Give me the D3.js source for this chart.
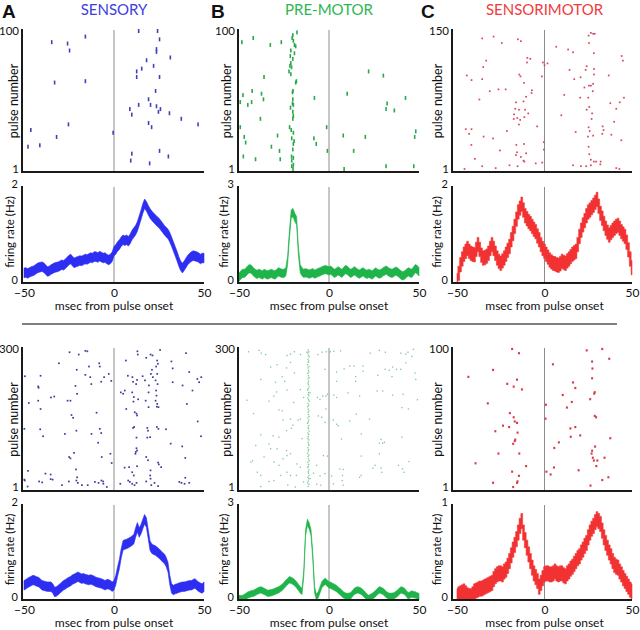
<!DOCTYPE html>
<html><head><meta charset="utf-8">
<script src="https://cdn.jsdelivr.net/npm/d3@7"></script>
<style>body{margin:0;background:#fff}svg{display:block}text{font-family:Lato,"Open Sans",sans-serif}</style>
</head><body><svg id="c" width="640" height="630"></svg>
<script>
// ---------- DATA ----------
const panelLetters = ["A", "B", "C"];
const panelTitles = ["SENSORY", "PRE-MOTOR", "SENSORIMOTOR"];
const xTickValues = [-50, 0, 50];
const xLabel = "msec from pulse onset";
const rasterLabel = "pulse number";
const rateLabel = "firing rate (Hz)";
const pulseMaxTop = [100, 100, 150];
const pulseMaxBottom = [300, 300, 100];
const rateMaxTop = [2, 3, 2];
const rateMaxBottom = [2, 3, 1];
const rateSemTop = [0.1, 0.13, 0.15];
const rateSemBottom = [0.1, 0.1, 0.08];
const rateTimes = d3.range(-50, 51, 1);

// spikes: [msec from pulse onset, pulse number]
const spikesA1 = [[-15.9,96],[-34.6,92],[-25.8,91],[-24.7,86],[-33.0,63],[-15.9,64],[-25.3,33],[-46.2,29],[-31.9,24],[-41.2,18],[-47.8,17],[-0.5,27],[13.7,100],[24.2,100],[25.3,94],[23.6,87],[23.6,85],[31.3,81],[18.1,79],[22.0,75],[15.4,73],[12.6,71],[12.6,67],[25.3,67],[23.1,57],[19.2,51],[13.7,47],[20.3,47],[23.6,46],[25.8,44],[24.7,42],[8.8,44],[9.9,40],[30.8,41],[37.4,37],[19.2,34],[20.9,31],[46.7,33],[25.3,14],[9.9,12],[9.3,7],[30.2,10],[19.8,5]];
const spikesB1 = [[-17.8,99],[-20.1,97],[-20.5,95],[-19.8,93],[-19.2,90],[-18.5,89],[-21.2,86],[-19.2,84],[-21.5,82],[-20.1,80],[-21.2,77],[-21.7,75],[-20.8,74],[-22.2,71],[-21.2,69],[-18.1,64],[-18.5,63],[-20.0,57],[-20.3,56],[-20.1,51],[-20.3,48],[-19.8,47],[-21.4,45],[-20.1,42],[-19.8,39],[-20.1,37],[-21.9,31],[-21.0,29],[-19.8,27],[-20.7,23],[-19.4,21],[-19.8,19],[-20.1,15],[-20.8,10],[-19.8,9],[-20.7,7],[-19.8,4],[-20.7,3],[-20.0,1],
 [-48.4,92],[-42.1,95],[-32.6,90],[-26.5,92],[-36.1,67],[-47.8,54],[-42.7,57],[-37.5,55],[-36.4,51],[-49.3,49],[-43.0,49],[-45.1,47],[-38.1,37],[-49.3,31],[-47.1,24],[-46.3,20],[-28.6,25],[-32.0,17],[-27.5,14],[-47.6,10],[-40.8,8],[-27.1,8],[-8.1,52],[-8.4,23],[-7.1,19],[-1.3,31],[-0.9,14],
 [22.0,71],[30.2,68],[10.1,55],[32.3,48],[31.7,44],[36.3,43],[42.5,52],[7.9,25],[20.2,24],[13.7,14],[48.2,28],[47.6,24],[8.4,1],[31.7,3],[47.1,3]];
const spikesC1 = [[-35.6,142],[-29.1,144],[-24.4,137],[-15.2,141],[-13.5,139],[-33.3,118],[-35.0,111],[-44.4,102],[-41.7,97],[-35.6,98],[-31.3,85],[-26.3,87],[-37.2,76],[-22.2,87],[-14.4,103],[-13.7,101],[-11.7,94],[-9.8,121],[-8.1,120],[-10.0,116],[-7.2,86],[-7.4,83],[-10.5,79],[-12.0,74],[-16.3,73],[-16.7,66],[-14.6,65],[-11.1,65],[-17.4,60],[-15.5,56],[-13.9,54],[-17.6,55],[-14.6,49],[-9.3,61],[-11.5,57],[-4.2,47],[-45.0,44],[-41.7,44],[-43.1,39],[-21.5,42],[-34.8,36],[-29.4,34],[-41.8,27],[-25.5,21],[-16.1,27],[-11.7,28],[-15.7,19],[-16.3,16],[-10.5,18],[-13.5,14],[-12.0,10],[-11.5,9],[-39.8,12],[-35.6,4],[-27.9,2],[-45.7,1],[-20.0,5],[-15.4,4],[-5.0,7],[-1.3,8],[-1.5,101],[-0.9,116],[0.0,113],[-0.4,30],[-0.4,22],
 [6.7,133],[13.5,130],[16.3,127],[26.5,148],[27.8,147],[28.7,147],[25.2,145],[25.4,137],[28.2,126],[1.7,115],[14.3,108],[17.0,98],[20.6,100],[24.1,112],[23.5,108],[28.3,109],[28.3,103],[36.7,102],[44.1,123],[44.8,118],[22.8,89],[25.4,91],[26.5,91],[27.8,93],[27.6,85],[11.3,81],[20.4,78],[25.0,78],[25.6,68],[27.2,61],[26.9,55],[9.6,59],[24.1,65],[37.6,72],[43.0,73],[45.4,78],[41.0,66],[39.8,52],[33.2,47],[33.7,43],[33.0,39],[38.2,38],[43.9,32],[17.8,41],[25.2,46],[25.8,42],[24.8,36],[27.8,37],[25.2,25],[25.6,17],[26.5,11],[28.2,9],[29.5,9],[32.1,9],[31.9,6],[23.8,4],[26.5,5],[16.3,5],[20.8,4],[41.0,2],[42.8,1]];
const spikesA2 = [[-24.7,293],[-19.6,288],[-15.9,296],[-14.8,295],[-30.6,269],[-8.2,269],[-7.9,262],[-13.9,262],[-20.7,255],[-40.8,242],[-49.5,241],[-15.9,244],[-13.2,239],[-41.9,216],[-42.1,219],[-35.0,195],[-33.2,197],[-21.4,220],[-20.5,203],[-24.2,188],[-12.6,224],[-7.1,229],[-2.9,246],[-5.5,239],[-1.5,231],[-47.3,183],[-42.1,188],[-40.8,170],[-25.8,188],[-9.7,162],[-23.6,157],[-22.7,151],[-41.0,126],[-49.8,127],[-39.4,111],[-27.3,116],[-20.9,123],[-12.5,116],[-7.9,127],[-7.1,118],[-8.8,97],[-22.2,75],[-24.9,66],[-24.2,63],[-6.8,66],[-2.0,73],[-1.3,53],[-21.1,39],[-47.8,36],[-38.1,30],[-35.2,28],[-35.2,18],[-34.1,17],[-49.8,17],[-49.6,15],[-41.6,13],[-39.9,11],[-28.9,5],[-25.1,13],[-20.9,15],[-20.1,10],[-17.8,5],[-14.6,5],[-10.6,12],[-7.0,15],[-6.0,13],[-5.9,8],[-8.6,10],[-4.0,1],[-48.0,2],[-20.5,22],
 [6.6,275],[13.0,295],[13.2,288],[20.3,288],[25.6,298],[21.4,286],[17.9,281],[24.0,275],[24.4,268],[23.4,262],[21.1,255],[24.0,246],[31.9,273],[32.6,258],[40.0,291],[7.7,242],[10.2,239],[10.6,229],[12.8,233],[12.3,224],[15.9,241],[17.2,232],[20.5,246],[21.6,239],[23.1,232],[19.4,221],[24.2,224],[32.6,228],[41.8,250],[38.1,221],[43.6,210],[46.3,235],[48.5,239],[47.3,228],[3.8,206],[5.1,203],[6.0,210],[10.1,206],[11.0,196],[13.4,191],[10.8,186],[19.2,206],[23.4,210],[23.6,199],[23.1,188],[24.0,181],[23.8,175],[24.7,174],[19.2,174],[17.6,188],[6.8,170],[11.5,163],[12.5,160],[12.8,156],[40.5,181],[46.5,143],[48.3,111],[10.6,129],[11.2,131],[18.5,129],[18.9,123],[23.8,131],[24.7,127],[28.9,126],[12.5,108],[18.5,108],[20.1,109],[31.5,95],[37.9,89],[12.5,85],[12.1,77],[11.9,73],[12.8,80],[17.9,66],[18.9,59],[24.5,54],[24.9,50],[39.6,64],[5.9,43],[8.4,44],[10.1,33],[11.0,26],[12.8,46],[20.3,37],[20.1,26],[26.2,44],[7.9,15],[8.8,12],[10.1,8],[11.4,5],[12.5,10],[17.9,13],[20.7,5],[22.5,10],[20.3,19],[24.5,3],[36.3,12],[37.5,10],[39.6,21],[39.2,8],[41.8,10],[3.5,8]];
const spikesB2 = [[-11.6,298],[-11.2,294],[-11.8,291],[-11.4,286],[-11.0,283],[-11.7,278],[-11.3,274],[-11.5,271],[-11.9,266],[-11.1,262],[-11.6,259],[-11.4,254],[-11.2,250],[-11.8,247],[-11.5,242],[-11.0,238],[-11.6,235],[-11.3,230],[-11.7,226],[-11.4,223],[-11.1,218],[-11.6,214],[-11.9,211],[-11.3,206],[-11.5,202],[-11.2,199],[-11.7,194],[-11.4,190],[-11.0,187],[-11.6,182],[-11.3,178],[-11.8,175],[-11.5,170],[-11.2,166],[-11.6,163],[-11.4,158],[-11.1,154],[-11.7,151],[-11.3,146],[-11.5,142],[-11.9,139],[-11.2,134],[-11.6,130],[-11.4,127],[-11.0,122],[-11.7,118],[-11.3,115],[-11.5,110],[-11.8,106],[-11.2,103],[-11.6,98],[-11.4,94],[-11.1,91],[-11.7,86],[-11.3,82],[-11.5,79],[-11.9,74],[-11.2,70],[-11.6,67],[-11.4,62],[-11.0,58],[-11.7,55],[-11.3,50],[-11.5,46],[-11.8,43],[-11.2,38],[-11.6,34],[-11.4,31],[-11.1,26],[-11.7,22],[-11.3,19],[-11.5,14],[-11.9,10],[-11.2,7],[-11.6,2],
 [-44.7,294],[-38.8,297],[-37.6,291],[-35.2,288],[-23.3,286],[-21.4,289],[-19.2,294],[-15.8,288],[-12.3,293],[-6.2,288],[-3.9,293],[-1.5,294],[0.7,294],[2.7,295],[6.4,296],[22.9,291],[28.0,297],[31.3,293],[39.9,291],[42.7,289],[43.9,293],[46.9,299],
 [-32.4,261],[-28.8,266],[-23.6,259],[-21.4,271],[-26.0,240],[-29.7,228],[-37.9,234],[-24.6,230],[-19.2,248],[-2.2,256],[4.2,250],[8.4,257],[11.5,263],[13.9,263],[14.8,240],[14.8,230],[18.9,263],[18.9,252],[27.1,243],[31.1,256],[33.5,254],[35.3,261],[37.5,256],[39.9,256],[42.7,270],[46.0,284],[47.8,248],[48.2,234],[35.0,240],[4.2,230],
 [-45.6,189],[-41.9,160],[-33.3,187],[-30.6,198],[-29.1,207],[-23.3,211],[-19.6,184],[-15.9,212],[-14.1,195],[-10.5,205],[-6.4,195],[-5.0,191],[-3.5,198],[-1.7,198],[-0.9,202],[2.7,200],[4.2,195],[10.6,205],[17.0,198],[26.7,209],[29.8,209],[35.3,200],[41.2,202],[40.5,173],[44.1,170],[49.1,190],[15.2,159],[-1.7,170],
 [-27.8,168],[-25.5,146],[-26.0,166],[-21.4,148],[-20.0,135],[-20.9,128],[-17.2,146],[-15.9,148],[-15.0,106],[-5.9,155],[-4.0,152],[-2.2,141],[2.4,146],[4.2,137],[5.1,134],[6.9,105],[11.5,144],[17.9,116],[22.5,148],[28.9,104],[29.8,96],[30.8,98],[28.0,96],[40.5,109],[-31.0,112],[-27.8,109],[-37.9,114],[-33.3,94],[-40.7,91],[-23.6,123],
 [-32.4,84],[-28.8,84],[-23.6,80],[-23.3,69],[-25.5,62],[-21.4,73],[-27.8,48],[-30.6,55],[-36.1,66],[-42.5,58],[-43.4,55],[-17.8,51],[-3.1,69],[-0.9,68],[-15.9,44],[-6.8,48],[6.0,40],[7.9,39],[17.9,68],[24.4,42],[25.6,48],[28.9,42],[29.3,33],[38.6,48],[40.8,40],[44.5,56],[41.7,33],[28.0,73],
 [-39.8,33],[-37.9,26],[-33.3,13],[-30.6,15],[-26.9,26],[-23.3,33],[-21.4,26],[-18.1,26],[-10.5,19],[-8.6,31],[-5.0,25],[-2.2,30],[1.5,25],[2.4,8],[7.3,15],[7.5,26],[17.0,22],[17.9,26],[-37.9,2],[-22.9,5],[-18.7,1],[-4.6,5],[7.9,5],[-6.8,7],[-14.1,12]];
const spikesC2 = [[-18.5,100],[-14.6,97],[-43.5,80],[-29.4,85],[-21.3,75],[-17.6,73],[-15.7,78],[-12.9,71],[-32.4,61],[-19.8,54],[-17.6,51],[-17.0,48],[-15.7,47],[-23.7,45],[-20.2,44],[-28.1,41],[-15.4,40],[-16.7,35],[-17.0,34],[-17.9,32],[-26.3,25],[-14.4,25],[-39.4,18],[-10.5,16],[-18.5,12],[-14.6,9],[-15.4,5],[-15.7,4],[-29.4,4],[-17.9,1],
 [24.1,99],[33.0,100],[37.0,93],[27.2,91],[27.4,86],[4.8,89],[27.2,79],[16.3,76],[17.6,72],[28.7,69],[28.4,68],[26.1,64],[10.4,67],[15.6,62],[12.8,58],[0.8,60],[0.6,50],[28.7,52],[29.5,51],[17.6,44],[14.8,43],[15.0,37],[20.4,38],[37.6,36],[8.2,33],[5.6,29],[28.9,30],[27.2,27],[26.9,25],[27.6,22],[28.2,20],[30.2,20],[29.6,16],[34.3,22],[5.4,15],[1.1,12],[3.5,10],[19.5,13],[33.0,6],[36.5,8],[26.3,2]];

// firing rate (Hz), one value per msec from -50 to 50
const rateA1 = [0.21,0.22,0.2,0.22,0.24,0.25,0.27,0.3,0.32,0.33,0.34,0.32,0.28,0.24,0.25,0.28,0.3,0.32,0.33,0.34,0.36,0.38,0.37,0.4,0.44,0.48,0.5,0.45,0.42,0.44,0.45,0.47,0.46,0.48,0.5,0.49,0.51,0.53,0.52,0.55,0.55,0.53,0.56,0.54,0.52,0.53,0.5,0.48,0.5,0.55,0.66,0.7,0.76,0.8,0.86,0.9,0.88,0.9,0.87,0.92,1.0,1.05,1.1,1.18,1.3,1.42,1.55,1.65,1.6,1.52,1.45,1.4,1.36,1.32,1.28,1.25,1.2,1.15,1.1,1.06,1.02,0.95,0.86,0.76,0.66,0.56,0.45,0.36,0.31,0.36,0.42,0.48,0.52,0.55,0.57,0.56,0.55,0.53,0.5,0.52,0.52];
const rateB1 = [0.18,0.25,0.3,0.3,0.35,0.42,0.45,0.42,0.35,0.3,0.27,0.3,0.28,0.25,0.3,0.27,0.25,0.28,0.3,0.27,0.25,0.3,0.35,0.32,0.3,0.3,0.35,0.7,1.5,2.15,2.2,2.05,1.95,1.0,0.45,0.35,0.3,0.32,0.3,0.28,0.3,0.32,0.28,0.3,0.33,0.35,0.38,0.4,0.42,0.4,0.38,0.4,0.35,0.3,0.33,0.38,0.35,0.3,0.35,0.42,0.4,0.35,0.3,0.33,0.38,0.35,0.3,0.28,0.32,0.35,0.3,0.27,0.3,0.28,0.25,0.3,0.35,0.3,0.28,0.3,0.35,0.38,0.4,0.35,0.32,0.3,0.33,0.37,0.35,0.3,0.25,0.22,0.25,0.3,0.35,0.32,0.3,0.38,0.45,0.42,0.35];
const rateC1 = [0.05,0.2,0.38,0.5,0.6,0.66,0.72,0.66,0.62,0.6,0.59,0.7,0.8,0.7,0.58,0.52,0.53,0.56,0.62,0.72,0.8,0.72,0.62,0.52,0.45,0.41,0.46,0.52,0.6,0.68,0.76,0.9,1.03,1.18,1.33,1.48,1.56,1.64,1.52,1.4,1.34,1.28,1.24,1.18,1.12,1.07,0.98,0.9,0.8,0.72,0.66,0.6,0.54,0.48,0.44,0.41,0.4,0.38,0.37,0.4,0.45,0.43,0.41,0.46,0.5,0.55,0.6,0.63,0.66,0.8,0.97,1.1,1.21,1.3,1.4,1.48,1.52,1.57,1.62,1.68,1.74,1.6,1.45,1.35,1.24,1.14,1.06,1.0,1.05,1.1,1.14,1.18,1.2,1.14,1.07,1.02,0.97,0.85,0.69,0.5,0.32];
const rateA2 = [0.31,0.33,0.36,0.38,0.4,0.42,0.41,0.39,0.38,0.35,0.31,0.3,0.29,0.28,0.28,0.28,0.24,0.17,0.18,0.21,0.24,0.28,0.31,0.33,0.36,0.38,0.4,0.43,0.45,0.47,0.49,0.47,0.45,0.46,0.44,0.43,0.42,0.43,0.42,0.4,0.38,0.37,0.36,0.35,0.33,0.31,0.33,0.33,0.31,0.28,0.31,0.42,0.6,0.76,0.98,1.15,1.17,1.18,1.2,1.22,1.25,1.28,1.42,1.53,1.42,1.49,1.6,1.7,1.63,1.39,1.15,1.08,1.06,1.04,1.01,0.98,0.94,0.9,0.87,0.8,0.69,0.42,0.24,0.21,0.23,0.24,0.26,0.27,0.28,0.28,0.29,0.3,0.31,0.31,0.33,0.35,0.31,0.28,0.26,0.24,0.28];
const rateB2 = [0.05,0.04,0.05,0.08,0.12,0.16,0.18,0.2,0.21,0.24,0.27,0.3,0.32,0.3,0.27,0.24,0.21,0.22,0.23,0.25,0.27,0.3,0.32,0.36,0.4,0.46,0.53,0.58,0.64,0.62,0.59,0.54,0.48,0.4,0.32,0.27,0.85,2.13,2.45,2.34,2.13,1.38,0.32,0.08,0.16,0.32,0.48,0.55,0.59,0.53,0.48,0.46,0.43,0.4,0.37,0.32,0.27,0.22,0.16,0.13,0.11,0.12,0.13,0.2,0.27,0.3,0.32,0.3,0.27,0.22,0.16,0.1,0.05,0.08,0.11,0.16,0.21,0.27,0.32,0.3,0.27,0.22,0.16,0.13,0.11,0.12,0.13,0.17,0.21,0.27,0.32,0.3,0.27,0.2,0.13,0.16,0.19,0.17,0.16,0.13,0.11];
const rateC2 = [0.04,0.06,0.07,0.08,0.09,0.07,0.05,0.04,0.04,0.06,0.09,0.1,0.11,0.12,0.12,0.13,0.14,0.15,0.16,0.17,0.18,0.22,0.25,0.27,0.28,0.28,0.27,0.3,0.32,0.36,0.41,0.47,0.53,0.58,0.64,0.71,0.78,0.83,0.71,0.63,0.55,0.48,0.41,0.34,0.28,0.24,0.2,0.14,0.18,0.23,0.27,0.28,0.28,0.27,0.27,0.28,0.3,0.28,0.27,0.28,0.28,0.26,0.25,0.28,0.3,0.33,0.35,0.38,0.41,0.44,0.46,0.5,0.53,0.57,0.6,0.66,0.71,0.75,0.78,0.82,0.85,0.83,0.8,0.73,0.66,0.6,0.55,0.5,0.46,0.41,0.37,0.35,0.34,0.3,0.27,0.23,0.2,0.17,0.14,0.11,0.09];

// ---------- LAYOUT / STYLE ----------
const svg = d3.select("#c");
const cols = [
  {ax: 22, x0: 24, x1: 204, labR: 18, labF: 14},
  {ax: 238, x0: 239, x1: 419, labR: 231, labF: 228},
  {ax: 452, x0: 457, x1: 632, labR: 442, labF: 441}
];
const titleColors = ["#3d3de0", "#2fb552", "#ef3b3b"];
const bandColors = ["#2e2ef2", "#1fb44a", "#f23232"];
const spikeStyle = {
  A1: {w: 1.6, h: 4, c: "#4040b8"}, B1: {w: 1.6, h: 4, c: "#28a84a"}, C1: {w: 1.7, h: 1.7, c: "#d8465a"},
  A2: {w: 1.7, h: 1.7, c: "#3a3aa0"}, B2: {w: 1.3, h: 1.3, c: "#79c994"}, C2: {w: 2, h: 2.2, c: "#d83a46"}
};
const rasterRows = [{top: 30, bottom: 172, yTop: 31, y1: 169}, {top: 348, bottom: 491, yTop: 349, y1: 487}];
const rateRows = [{top: 187, bottom: 283}, {top: 505, bottom: 600}];
const axisColor = "#1a1a1a";
const fontStack = "Lato, 'Open Sans', sans-serif";

function xScale(c) { return d3.scaleLinear().domain([-50, 50]).range([c.x0, c.x1]); }

function drawRaster(ci, row, spikes, pmax, st) {
  const c = cols[ci];
  const g = svg.append("g");
  const x = xScale(c);
  const y = d3.scaleLinear().domain([1, pmax]).range([row.y1, row.yTop]);
  g.append("line").attr("x1", x(0)).attr("x2", x(0)).attr("y1", row.top).attr("y2", row.bottom)
    .attr("stroke", "#8c8c8c").attr("stroke-width", 1);
  g.selectAll("rect.s").data(spikes).enter().append("rect").attr("class", "s")
    .attr("x", d => x(d[0]) - st.w / 2).attr("y", d => y(d[1]) - st.h / 2)
    .attr("width", st.w).attr("height", st.h).attr("fill", st.c);
  g.append("line").attr("x1", c.ax).attr("x2", c.ax).attr("y1", row.top - 1).attr("y2", row.bottom + 1)
    .attr("stroke", axisColor).attr("stroke-width", 2);
  g.append("line").attr("x1", c.ax).attr("x2", c.x1).attr("y1", row.bottom).attr("y2", row.bottom)
    .attr("stroke", axisColor).attr("stroke-width", 2);
  const ya = g.append("g").attr("transform", `translate(${c.ax - 1},0)`)
    .call(d3.axisLeft(y).tickValues([1, pmax]).tickFormat(d3.format("d")).tickSize(0).tickPadding(2));
  ya.select(".domain").remove();
  ya.selectAll("text").attr("font-size", 11.5).attr("fill", "#111").style("font-family", fontStack);
  g.append("text").attr("transform", `translate(${c.labR},${(row.top + row.bottom) / 2}) rotate(-90)`)
    .attr("text-anchor", "middle").attr("font-size", 12.5).attr("fill", "#111").text(rasterLabel);
}

function drawRate(ci, row, rates, rmax, sem, color, stepped) {
  const c = cols[ci];
  const g = svg.append("g");
  const x = xScale(c);
  const y = d3.scaleLinear().domain([0, rmax]).range([row.bottom, row.top]);
  g.append("line").attr("x1", x(0)).attr("x2", x(0)).attr("y1", row.top).attr("y2", row.bottom)
    .attr("stroke", "#8c8c8c").attr("stroke-width", 1);
  const area = d3.area()
    .x((d, i) => x(rateTimes[i]))
    .y0(d => y(Math.max(0, d - sem)))
    .y1(d => y(Math.min(rmax, d + sem)))
    .curve(stepped ? d3.curveStep : d3.curveLinear);
  g.append("path").datum(rates).attr("d", area).attr("fill", color).attr("stroke", color).attr("stroke-width", 0.6);
  g.append("line").attr("x1", c.ax).attr("x2", c.ax).attr("y1", row.top - 1).attr("y2", row.bottom + 1)
    .attr("stroke", axisColor).attr("stroke-width", 2);
  g.append("line").attr("x1", c.ax).attr("x2", c.x1).attr("y1", row.bottom).attr("y2", row.bottom)
    .attr("stroke", axisColor).attr("stroke-width", 2);
  const ya = g.append("g").attr("transform", `translate(${c.ax - 1},-3)`)
    .call(d3.axisLeft(y).tickValues([0, rmax]).tickFormat(d3.format("d")).tickSize(0).tickPadding(3));
  ya.select(".domain").remove();
  ya.selectAll("text").attr("font-size", 11).attr("fill", "#111").style("font-family", fontStack);
  const xa = g.append("g").attr("transform", `translate(0,${row.bottom})`)
    .call(d3.axisBottom(x).tickValues(xTickValues).tickFormat(d3.format("d")).tickSize(0).tickPadding(5));
  xa.select(".domain").remove();
  xa.selectAll("text").attr("font-size", 12).attr("fill", "#111").style("font-family", fontStack);
  g.append("text").attr("x", x(0)).attr("y", row.bottom + 27).attr("text-anchor", "middle")
    .attr("font-size", 12).attr("fill", "#111").text(xLabel);
  g.append("text").attr("transform", `translate(${c.labF},${(row.top + row.bottom) / 2 - 3}) rotate(-90)`)
    .attr("text-anchor", "middle").attr("font-size", 11.5).attr("fill", "#111").text(rateLabel);
}

// headers
panelLetters.forEach((L, i) => {
  svg.append("text").attr("x", [2, 211, 421][i]).attr("y", 18).attr("font-size", 19).attr("font-weight", "bold")
    .attr("fill", "#111").style("font-family", "Arial, 'Liberation Sans', sans-serif").text(L);
  const x = xScale(cols[i]);
  svg.append("text").attr("x", x(0)).attr("y", 15).attr("text-anchor", "middle").attr("font-size", 15)
    .attr("fill", titleColors[i]).text(panelTitles[i]);
});

const topSpikes = [spikesA1, spikesB1, spikesC1];
const botSpikes = [spikesA2, spikesB2, spikesC2];
const topRates = [rateA1, rateB1, rateC1];
const botRates = [rateA2, rateB2, rateC2];
const keysTop = ["A1", "B1", "C1"], keysBot = ["A2", "B2", "C2"];
for (let i = 0; i < 3; i++) {
  drawRaster(i, rasterRows[0], topSpikes[i], pulseMaxTop[i], spikeStyle[keysTop[i]]);
  drawRate(i, rateRows[0], topRates[i], rateMaxTop[i], rateSemTop[i], bandColors[i], i === 2);
  drawRaster(i, rasterRows[1], botSpikes[i], pulseMaxBottom[i], spikeStyle[keysBot[i]]);
  drawRate(i, rateRows[1], botRates[i], rateMaxBottom[i], rateSemBottom[i], bandColors[i], i === 2);
}
// divider between the two example rows
svg.append("line").attr("x1", 22).attr("x2", 617).attr("y1", 324).attr("y2", 324)
  .attr("stroke", "#555").attr("stroke-width", 1.5);
</script></body></html>
